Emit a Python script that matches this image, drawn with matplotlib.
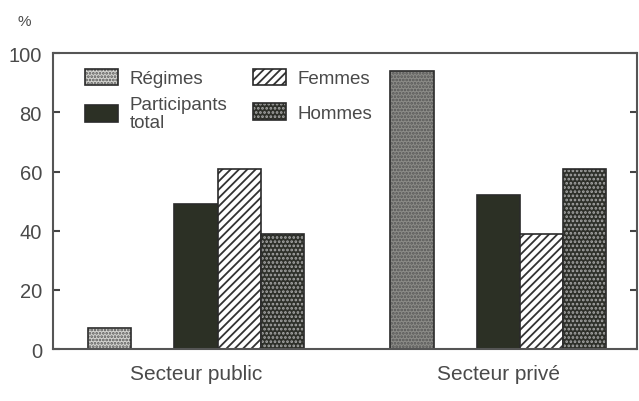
import matplotlib.pyplot as plt
from matplotlib.patches import Patch, Rectangle
from matplotlib.legend_handler import HandlerBase
import numpy as np

plt.rcParams['font.family'] = ['Liberation Sans', 'DejaVu Sans']
plt.rcParams['hatch.linewidth'] = 1.3

sectors = ['Secteur public', 'Secteur privé']
series = ['Régimes', 'Participants\ntotal', 'Femmes', 'Hommes']
regimes = [7, 94]
participants = [49, 52]
femmes = [61, 39]
hommes = [39, 61]

txt = '#4a4a4a'
pos_pub = np.array([0, 2, 3, 4])
pos_prv = pos_pub + 7


class Box(HandlerBase):
    # hatched box + dark outline on top
    def create_artists(self, legend, orig, xd, yd, w, h, fs, trans):
        r1 = Rectangle((-xd, -yd), w, h, facecolor=orig.get_facecolor(),
                       edgecolor=orig.get_edgecolor(), hatch=orig.get_hatch(),
                       lw=0, transform=trans)
        r2 = Rectangle((-xd, -yd), w, h, fill=False, edgecolor='#2a2a2a',
                       lw=1.2, transform=trans)
        return [r1, r2]


fig = plt.figure(figsize=(6.39, 4.02), dpi=100)
ax = fig.add_axes([0.083, 0.129, 0.914, 0.736])

styles = [
    dict(facecolor='#d4d4d0', edgecolor='#555555', hatch='.....'),
    dict(facecolor='#2c3025', edgecolor='#2c3025', hatch=None),
    dict(facecolor='white', edgecolor='#333333', hatch='////'),
    dict(facecolor='#2e302a', edgecolor='#a8a8a8', hatch='....'),
]
vals = [regimes, participants, femmes, hommes]
handles = []
for i, (st, v) in enumerate(zip(styles, vals)):
    xs = [pos_pub[i], pos_prv[i]]
    fc = [st['facecolor'], st['facecolor']]
    if i == 0:
        fc = ['#d4d4d0', '#8c8c88']
    ax.bar(xs, v, width=1.0, color=fc, edgecolor=st['edgecolor'],
           hatch=st['hatch'], linewidth=0)
    ax.bar(xs, v, width=1.0, fill=False, edgecolor='#2a2a2a', linewidth=1.2)
    handles.append(Patch(facecolor=st['facecolor'], edgecolor=st['edgecolor'],
                         hatch=st['hatch']))

ax.set_xlim(-1.31, 12.21)
ax.set_ylim(0, 100)
ax.set_yticks([0, 20, 40, 60, 80, 100])
ax.tick_params(axis='y', direction='in', length=5, width=1.5, colors='#444444',
               labelsize=14.5, right=True, labelcolor=txt, pad=8)
ax.set_xticks([2, 9])
ax.set_xticklabels(sectors, fontsize=15, color=txt)
ax.tick_params(axis='x', length=0, pad=11)
for s in ax.spines.values():
    s.set_color('#555555')
    s.set_linewidth(1.5)

fig.text(0.0375, 0.945, '%', fontsize=11, color=txt, ha='center', va='center')

common = dict(loc='upper left', frameon=False, fontsize=13.5, labelcolor=txt,
              handlelength=1.76, handleheight=1.0, handletextpad=0.62,
              borderaxespad=0, borderpad=0, handler_map={h: Box() for h in handles})
leg1 = ax.legend(handles[:2], series[:2], bbox_to_anchor=(0.055, 0.948),
                 labelspacing=0.45, **common)
leg1.get_texts()[1].set_linespacing(1.1)
ax.add_artist(leg1)
leg2 = ax.legend(handles[2:], series[2:], bbox_to_anchor=(0.342, 0.948),
                 labelspacing=0.85, **common)

fig.savefig('out.png', dpi=100)
